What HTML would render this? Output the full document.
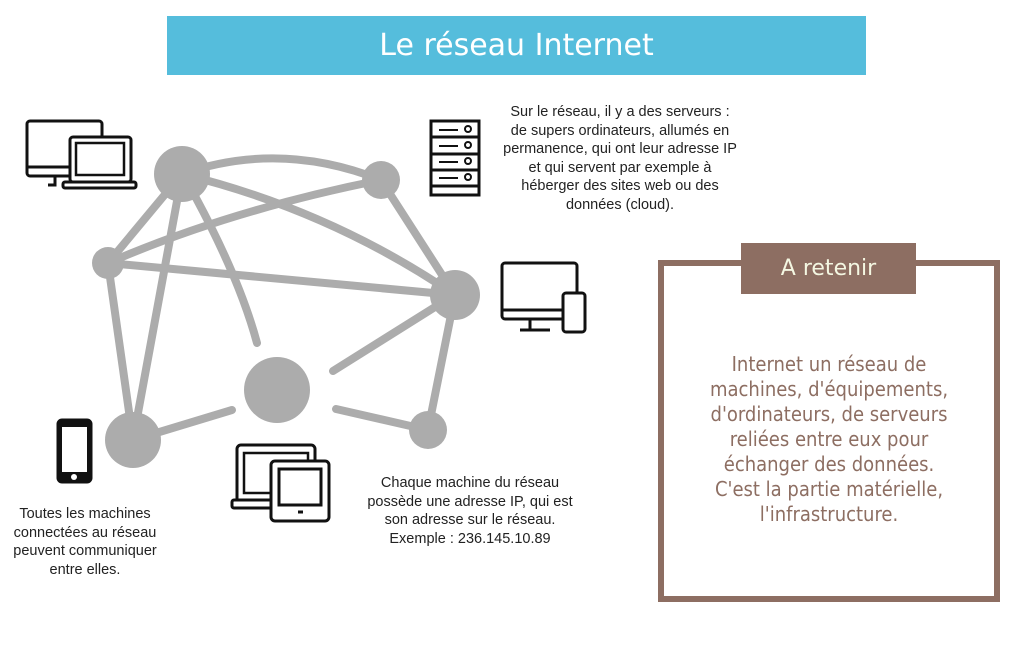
<!DOCTYPE html>
<html><head><meta charset="utf-8"><style>
body{margin:0;width:1024px;height:649px;background:#fff;position:relative;overflow:hidden;font-family:"Liberation Sans Narrow","Liberation Sans",sans-serif}
.t{position:absolute;text-align:center;color:#222;font-size:14.5px;line-height:18.5px;font-stretch:condensed}
</style></head><body>
<div style="position:absolute;left:167px;top:16px;width:699px;height:59px;background:#55bddc;color:#fff;font-family:'DejaVu Sans',sans-serif;font-size:30px;line-height:59px;text-align:center">Le réseau Internet</div>
<svg width="1024" height="649" style="position:absolute;left:0;top:0">
<g stroke="#acacac" stroke-width="8" fill="none" stroke-linecap="round">
<path d="M182 174 Q280 140 381 180"/>
<path d="M182 174 Q330 210 455 295"/>
<path d="M381 180 Q230 210 108 263"/>
<line x1="381" y1="180" x2="455" y2="295"/>
<line x1="182" y1="174" x2="108" y2="263"/>
<line x1="182" y1="174" x2="133" y2="440"/>
<path d="M196 198 Q240 280 257 343"/>
<line x1="108" y1="263" x2="455" y2="295"/>
<line x1="108" y1="263" x2="133" y2="440"/>
<line x1="455" y1="295" x2="428" y2="430"/>
<line x1="435" y1="307" x2="333" y2="371"/>
<line x1="133" y1="440" x2="232" y2="410"/>
<line x1="336" y1="409" x2="428" y2="430"/>
</g>
<g fill="#acacac">
<circle cx="182" cy="174" r="28"/><circle cx="381" cy="180" r="19"/><circle cx="108" cy="263" r="16"/>
<circle cx="455" cy="295" r="25"/><circle cx="277" cy="390" r="33"/><circle cx="133" cy="440" r="28"/><circle cx="428" cy="430" r="19"/>
</g>
<g stroke="#111" stroke-width="3" fill="#fff">
<rect x="27" y="121" width="75" height="55" rx="3"/><line x1="27" y1="167" x2="102" y2="167"/><path d="M55 176 v9 h-7"/>
<rect x="70" y="137" width="61" height="45" rx="3"/><rect x="76" y="143" width="48" height="32" stroke-width="2.5"/>
<rect x="63" y="182" width="73" height="6" rx="2"/>
<rect x="431" y="121" width="48" height="74"/>
<line x1="431" y1="137" x2="479" y2="137"/><line x1="431" y1="154" x2="479" y2="154"/><line x1="431" y1="170" x2="479" y2="170"/><line x1="431" y1="186" x2="479" y2="186"/>
<g stroke-width="2"><line x1="439" y1="130" x2="458" y2="130"/><line x1="439" y1="146" x2="458" y2="146"/><line x1="439" y1="162" x2="458" y2="162"/><line x1="439" y1="178" x2="458" y2="178"/>
<circle cx="468" cy="129" r="3"/><circle cx="468" cy="145" r="3"/><circle cx="468" cy="161" r="3"/><circle cx="468" cy="177" r="3"/></g>
<rect x="502" y="263" width="75" height="56" rx="3"/><line x1="502" y1="310" x2="577" y2="310"/><path d="M530 319 v10 M520 330 h30"/>
<rect x="563" y="293" width="22" height="39" rx="3"/>
<rect x="58" y="420" width="33" height="62" rx="4" fill="#111"/><rect x="62" y="427" width="25" height="45" fill="#fff" stroke="none"/>
<rect x="237" y="445" width="78" height="58" rx="4"/><rect x="244" y="453" width="64" height="40" stroke-width="2.5"/>
<rect x="232" y="500" width="44" height="8" rx="2"/>
<rect x="271" y="461" width="58" height="60" rx="4"/><rect x="279" y="469" width="42" height="36"/><line x1="298" y1="512" x2="303" y2="512"/>
</g>
<circle cx="74" cy="477" r="3" fill="#fff"/>
</svg>
<div class="t" style="left:480px;top:103px;width:280px">Sur le réseau, il y a des serveurs :<br>de supers ordinateurs, allumés en<br>permanence, qui ont leur adresse IP<br>et qui servent par exemple à<br>héberger des sites web ou des<br>données (cloud).</div>
<div class="t" style="left:10px;top:505px;width:150px">Toutes les machines<br>connectées au réseau<br>peuvent communiquer<br>entre elles.</div>
<div class="t" style="left:350px;top:474px;width:240px">Chaque machine du réseau<br>possède une adresse IP, qui est<br>son adresse sur le réseau.<br>Exemple : 236.145.10.89</div>
<div style="position:absolute;left:658px;top:260px;width:330px;height:330px;border:6px solid #8d6e62"></div>
<div style="position:absolute;left:741px;top:243px;width:175px;height:51px;background:#8d6e62;color:#f4f7e2;font-family:'DejaVu Sans',sans-serif;font-size:22px;line-height:51px;text-align:center">A retenir</div>
<div style="position:absolute;left:664px;top:352px;width:330px;text-align:center;color:#8d6e62;font-family:'DejaVu Sans Condensed','DejaVu Sans',sans-serif;font-size:20px;line-height:25px">Internet un réseau de<br>machines, d'équipements,<br>d'ordinateurs, de serveurs<br>reliées entre eux pour<br>échanger des données.<br>C'est la partie matérielle,<br>l'infrastructure.</div>
</body></html>
